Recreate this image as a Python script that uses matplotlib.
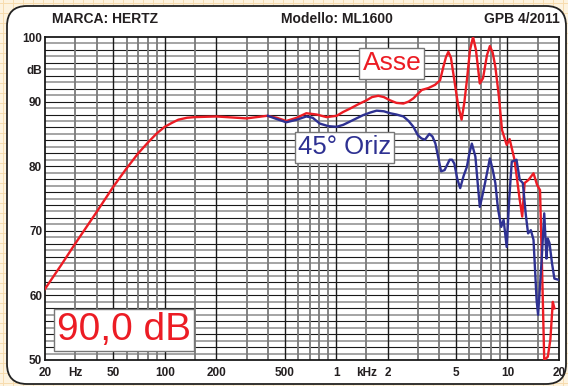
import matplotlib
matplotlib.use('Agg')
import matplotlib.pyplot as plt
from matplotlib.patches import FancyBboxPatch
from matplotlib.ticker import NullLocator
import numpy as np

plt.rcParams['font.family'] = ['Liberation Sans', 'DejaVu Sans']

# ---------------- data ----------------
freq_asse = [20, 25, 30, 40, 50, 60, 70, 80, 90, 100, 110, 120, 135, 150, 200, 300,
             395, 450, 512, 590, 670, 770, 880, 1006, 1100, 1203, 1350, 1505, 1620,
             1762, 1900, 2065, 2250, 2470, 2650, 2825, 3000, 3163, 3458, 3783, 4045,
             4229, 4380, 4520, 4680, 4900, 5150, 5400, 5600, 5800, 6050, 6300, 6550,
             6900, 7200, 7600, 7900, 8200, 8500, 8900, 9300, 9900, 10300, 11000,
             11800, 12200, 12600, 13300, 14200, 14900, 15500, 16000, 16400, 17200,
             17800, 18400, 18800]
db_asse = [61.0, 64.8, 68.0, 72.9, 76.8, 79.7, 82.0, 83.7, 85.1, 86.1, 86.7, 87.2,
           87.5, 87.6, 87.7, 87.4, 87.8, 87.5, 87.0, 87.5, 88.2, 88.0, 87.6, 87.8,
           88.4, 88.9, 89.6, 90.2, 90.7, 90.9, 90.7, 90.2, 89.8, 89.7, 90.0, 90.5,
           91.2, 91.8, 92.1, 92.6, 93.3, 95.4, 96.9, 97.7, 96.8, 93.3, 89.5, 87.2,
           89.8, 93.3, 98.0, 100.0, 98.0, 92.8, 93.6, 97.2, 98.6, 97.6, 95.4, 91.0,
           85.6, 83.3, 84.2, 81.0, 74.8, 72.2, 77.4, 77.9, 78.9, 77.1, 76.3, 62.0,
           50.0, 50.5, 53.1, 59.0, 58.0]

freq_oriz = [400, 450, 512, 590, 670, 730, 803, 900, 1006, 1100, 1203, 1437, 1580,
             1723, 1900, 2065, 2250, 2470, 2650, 2825, 3000, 3150, 3300, 3500, 3650,
             3800, 3950, 4100, 4300, 4600, 4750, 4900, 5100, 5300, 5550, 5800, 6000,
             6200, 6500, 6700, 6900, 7150, 7400, 7900, 8200, 8500, 8800, 9200, 9500,
             9900, 10250, 10600, 11300, 11800, 12300, 12800, 13200, 13700, 14200,
             14800, 15100, 15800, 16400, 16900, 17200, 17600, 18200, 18800, 20000]
db_oriz = [87.8, 87.3, 86.8, 87.2, 87.7, 87.5, 86.6, 86.2, 86.1, 86.4, 86.9, 87.9,
           88.3, 88.6, 88.5, 88.2, 88.0, 87.7, 87.0, 86.1, 84.8, 84.3, 84.1, 85.0,
           84.6, 83.5, 81.3, 79.2, 79.4, 81.0, 81.0, 80.4, 78.0, 76.6, 78.5, 79.9,
           82.0, 83.5, 81.5, 77.5, 73.7, 75.5, 77.4, 81.2, 79.5, 77.4, 73.5, 70.6,
           71.7, 67.5, 75.0, 80.7, 81.0, 77.9, 77.4, 72.5, 69.6, 70.1, 68.6, 59.3,
           57.0, 65.0, 72.7, 65.7, 68.8, 68.1, 65.0, 62.6, 62.4]

xtick_pos = [20, 30, 50, 100, 200, 500, 1000, 1500, 2000, 5000, 10000, 20000]
xtick_lab = ['20', 'Hz', '50', '100', '200', '500', '1', 'kHz', '2', '5', '10', '20']
ytick_pos = [50, 60, 70, 80, 90, 95, 100]
ytick_lab = ['50', '60', '70', '80', '90', 'dB', '100']

grid_freqs = [30, 40, 50, 60, 70, 80, 90, 100, 150, 200, 300, 400, 500, 600, 700,
              800, 900, 1000, 1500, 2000, 3000, 4000, 5000, 6000, 7000, 8000,
              9000, 10000, 15000]
dark_freqs = [50, 100, 200, 500, 1000, 2000, 5000, 10000]

RED = '#ec1c24'
BLUE = '#2e3192'

# ---------------- figure ----------------
W, H = 568, 386
fig = plt.figure(figsize=(W / 100, H / 100), dpi=100)
fig.patch.set_facecolor('#fdf3df')

bg = fig.add_axes([0, 0, 1, 1])
bg.set_xlim(0, W)
bg.set_ylim(H, 0)
bg.axis('off')
for x in np.arange(3, W, 10):
    bg.plot([x, x], [0, H], color='#f7dcae', lw=0.7, zorder=0)
for y in np.arange(3, H, 10):
    bg.plot([0, W], [y, y], color='#f7dcae', lw=0.7, zorder=0)
panel = FancyBboxPatch((7, 6), 559, 378,
                       boxstyle='round,pad=0,rounding_size=20',
                       fc='white', ec='#222222', lw=1.3, zorder=1)
bg.add_patch(panel)

bg.text(52, 19, 'MARCA: HERTZ', fontsize=10, fontweight='bold',
        ha='left', va='center', color='#231f20', zorder=3)
bg.text(337, 19, 'Modello: ML1600', fontsize=10, fontweight='bold',
        ha='center', va='center', color='#231f20', zorder=3)
bg.text(560, 19, 'GPB 4/2011', fontsize=10, fontweight='bold',
        ha='right', va='center', color='#231f20', zorder=3)

ax = fig.add_axes([45 / W, 26 / H, 514 / W, 323 / H])
ax.set_facecolor('white')
ax.set_xscale('log')
ax.set_xlim(20, 20000)
ax.set_ylim(50, 100)

for d in range(51, 100):
    if d % 2 == 0:
        ax.axhline(d, color='#1a1a1a', lw=0.8, zorder=1)
    else:
        ax.axhline(d, color='#8c8c8c', lw=1.1, zorder=1)
for f in grid_freqs:
    if f in dark_freqs:
        ax.axvline(f, color='#1a1a1a', lw=1.0, zorder=1)
    else:
        ax.axvline(f, color='#7a7a7a', lw=1.3, zorder=1)

ax.plot(freq_asse, db_asse, color=RED, lw=1.7, zorder=3, clip_on=True,
        solid_joinstyle='round')
ax.plot(freq_oriz, db_oriz, color=BLUE, lw=1.7, zorder=4, clip_on=True,
        solid_joinstyle='round')

for s in ax.spines.values():
    s.set_color('#1a1a1a')
    s.set_linewidth(1.3)

ax.xaxis.set_minor_locator(NullLocator())
ax.set_xticks(xtick_pos)
ax.set_xticklabels(xtick_lab)
ax.set_yticks(ytick_pos)
ax.set_yticklabels(ytick_lab)
ax.tick_params(axis='both', length=0, labelsize=8.5, colors='#231f20')
ax.tick_params(axis='x', pad=5)
ax.tick_params(axis='y', pad=2)
for lab in ax.get_xticklabels() + ax.get_yticklabels():
    lab.set_fontweight('bold')

box = dict(boxstyle='square,pad=0.12', fc='white', ec='#777777', lw=1.0)
ax.text(0.675, 0.918, 'Asse', transform=ax.transAxes, fontsize=19, color=RED,
        ha='center', va='center', bbox=box, zorder=6)
ax.text(0.583, 0.658, '45° Oriz', transform=ax.transAxes, fontsize=18.5,
        color=BLUE, ha='center', va='center', bbox=box, zorder=6)
ax.text(0.154, 0.093, '90,0 dB', transform=ax.transAxes, fontsize=28, color=RED,
        ha='center', va='center',
        bbox=dict(boxstyle='square,pad=0.08', fc='white', ec='#777777', lw=1.0),
        zorder=6)

fig.savefig('out.png', dpi=100, facecolor=fig.get_facecolor())
